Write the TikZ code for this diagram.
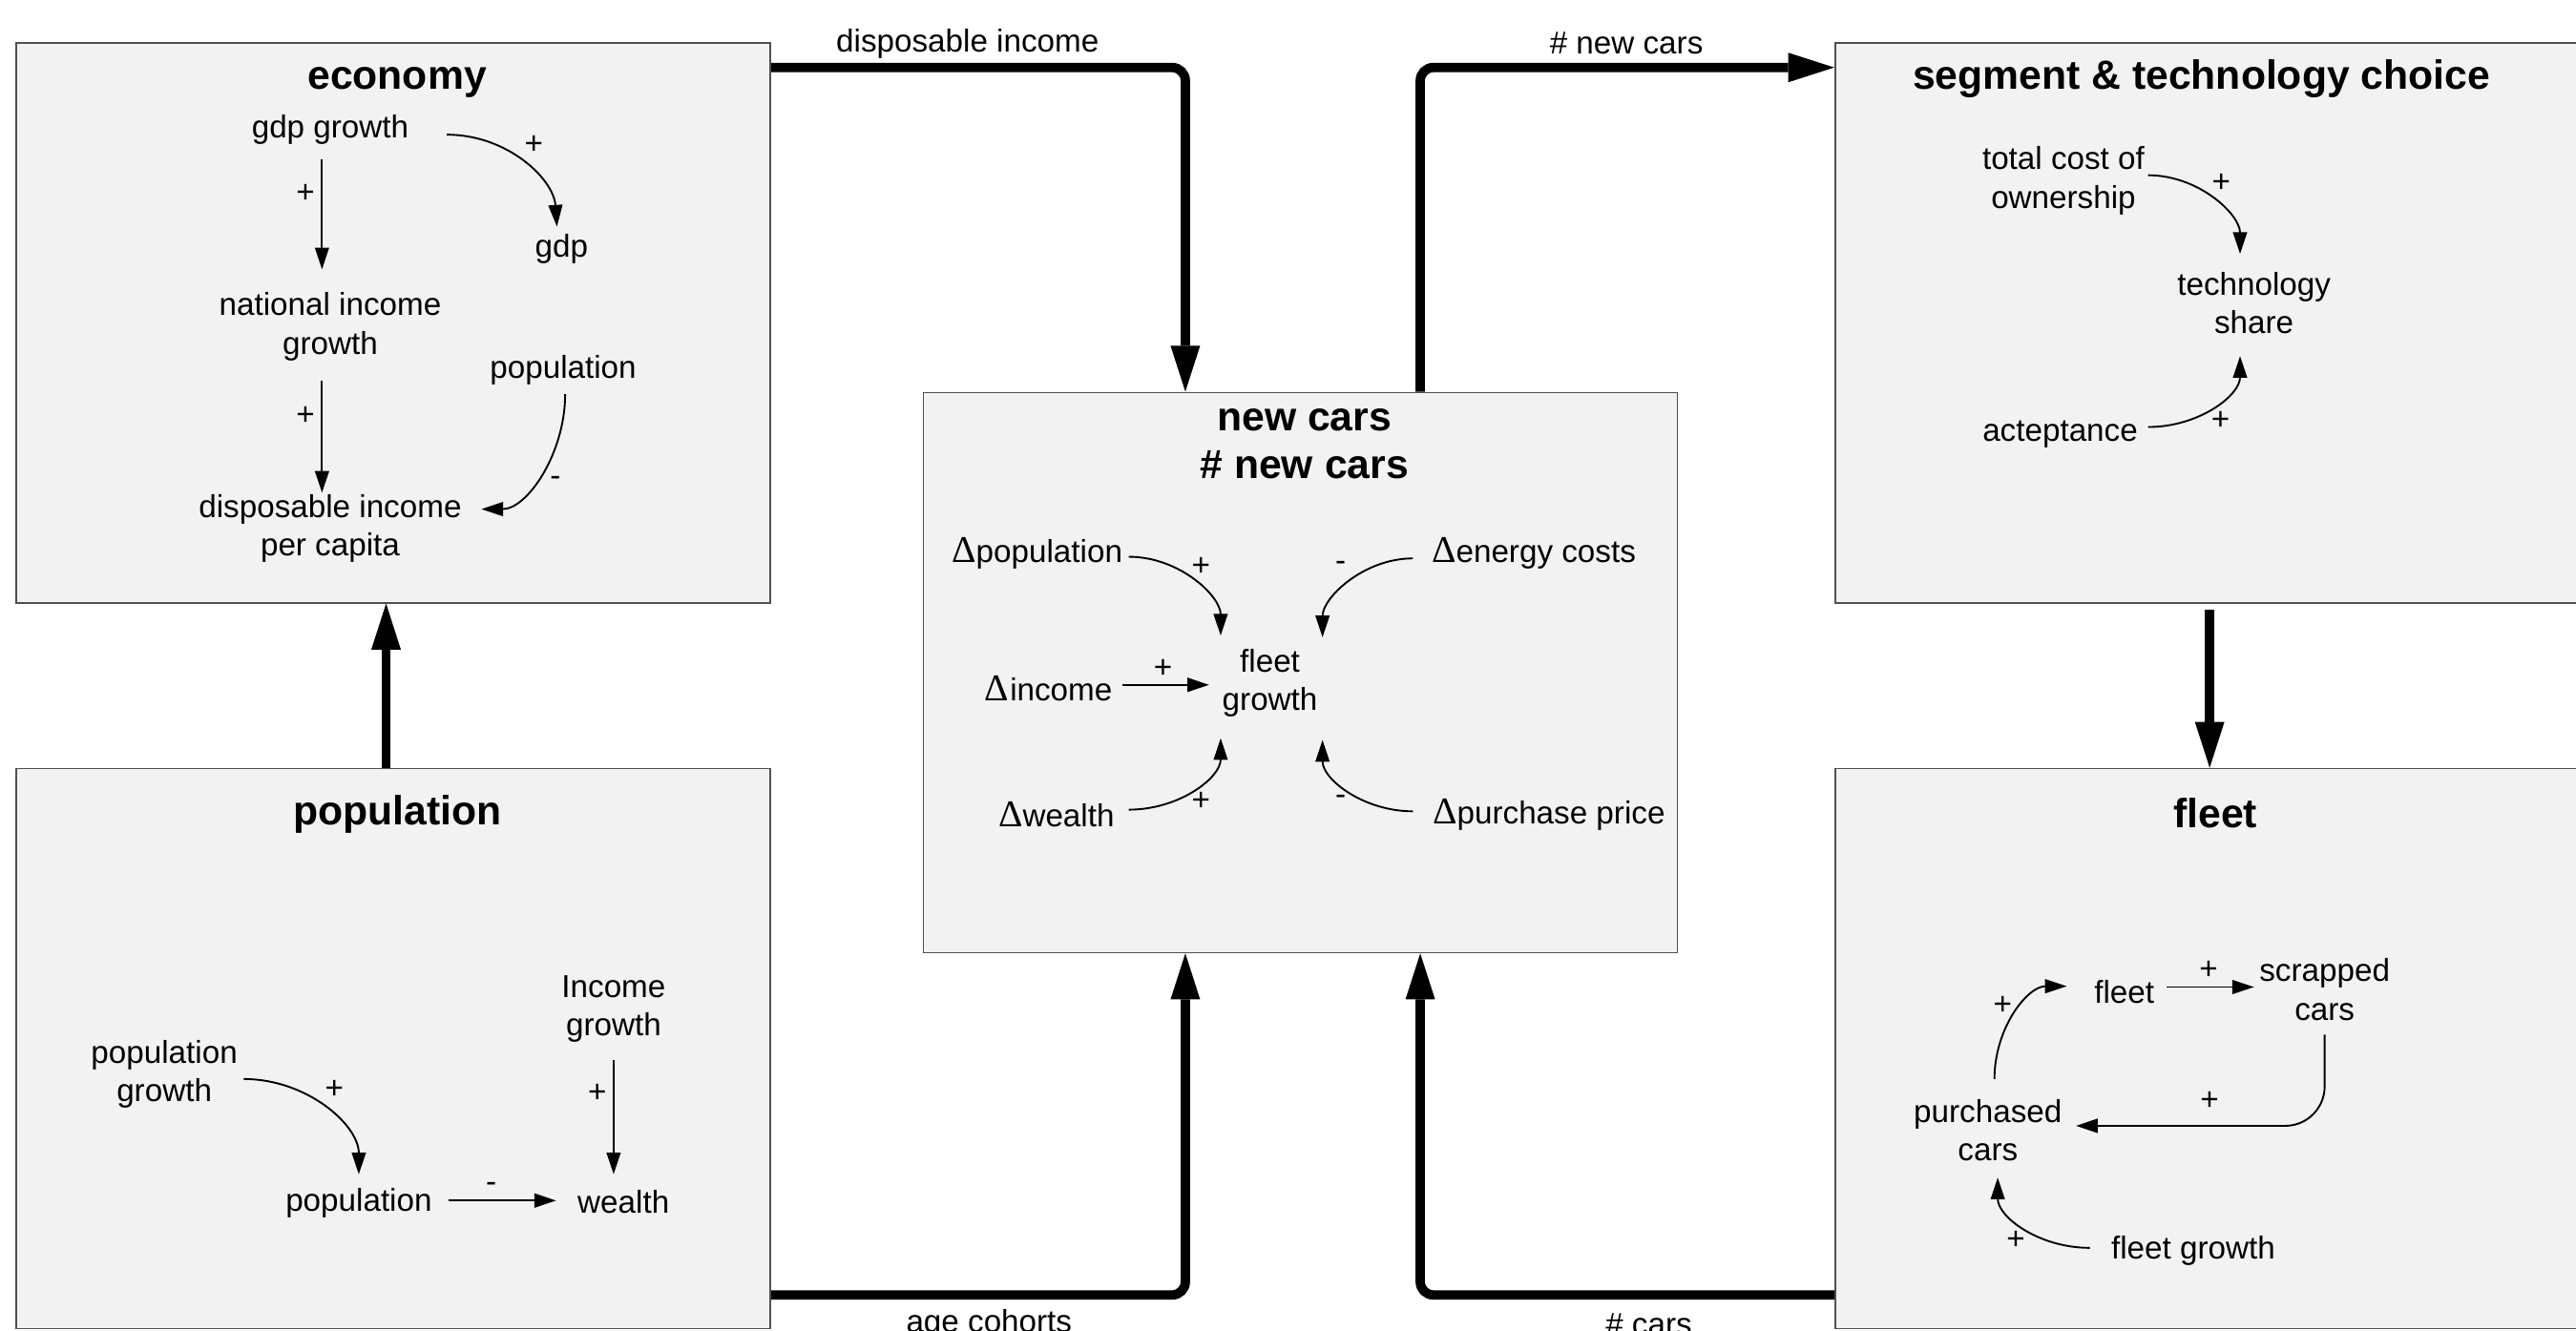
\documentclass[tikz,border=0pt]{standalone}
\usepackage{fontspec}
\setmainfont{Liberation Sans}
\newfontfamily\deltafont{Liberation Serif}
\usetikzlibrary{arrows.meta}
\definecolor{panelfill}{HTML}{F2F2F2}
\definecolor{panelline}{HTML}{505050}
\newcommand{\deltasym}{{\deltafont\fontsize{23}{23}\selectfont Δ}}
\begin{document}
\begin{tikzpicture}[x=1pt,y=-1pt,
  panel/.style={draw=panelline, fill=panelfill, line width=1pt,
    minimum width=459pt, minimum height=341pt, inner sep=0pt},
  lbl/.style={font=\fontsize{19.3}{23.5}\selectfont, align=center, inner sep=0pt, yshift=-2pt},
  sgn/.style={font=\fontsize{19.3}{23.5}\selectfont, inner sep=0pt},
  ttl/.style={font=\fontsize{24.8}{29}\selectfont\bfseries, align=center, inner sep=0pt, yshift=-2pt},
  link/.style={line width=1.1pt, -{Triangle[length=13.2pt,width=8.5pt]}},
  flow/.style={line width=5.7pt, rounded corners=8pt,
    -{Triangle[length=28pt,width=18pt,line width=0pt]}},
]
\useasboundingbox (0,0) rectangle (1568,810);
\clip (0,0) rectangle (1568,810);

% sub-model panels
\node[panel] (econ)  at (239.5,196.5) {};
\node[panel] (ncars) at (791.5,409.5) {};
\node[panel] (seg)   at (1346.5,196.5) {};
\node[panel] (popu)  at (239.5,638.5) {};
\node[panel] (fleet) at (1346.5,638.5) {};

% panel titles
\node[ttl] (econT)  at (241.7,48)   {economy};
\node[ttl] (ncarsT) at (794,268.5)  {new cars\\\# new cars};
\node[ttl] (segT)   at (1340,45.8)  {segment \& technology choice};
\node[ttl] (popuT)  at (241.8,494)  {population};
\node[ttl] (fleetT) at (1348.5,493) {fleet};

% ---- economy ----
\node[lbl] (gdpg) at (201,77)        {gdp growth};
\node[lbl] (gdp)  at (341.8,149.4)   {gdp};
\node[lbl] (nig)  at (201,197)       {national income\\growth};
\node[lbl] (epop) at (342.8,223.5)   {population};
\node[lbl] (dipc) at (201,319.8)     {disposable income\\per capita};
\draw[link] ([shift={(-5,18)}]gdpg.center) -- ([shift={(-5,-35)}]nig.center);
\draw[link] ([shift={(-5,33)}]nig.center) -- ([shift={(-5,-21.8)}]dipc.center);
\draw[link] ([shift={(71,3)}]gdpg.center) .. controls +(37,0) and +(-2,-29) .. ([shift={(-2.8,-13.4)}]gdp.center);
\draw[link] ([shift={(1.2,14.5)}]epop.center) .. controls +(0,36) and +(28,0) .. ([shift={(92,-11.8)}]dipc.center);
\node[sgn] (s1) at (186,118) {+};
\node[sgn] (s2) at (186,253) {+};
\node[sgn] (s3) at (325,88)  {+};
\node[sgn] (s4) at (338,293) {-};

% ---- new cars ----
\node[lbl] (dpop) at (631.3,335) {\deltasym population};
\node[lbl] (dene) at (933.6,335) {\deltasym energy costs};
\node[lbl] (dinc) at (638,417)   {\deltasym\kern1pt income};
\node[lbl] (fg)   at (773,414)   {fleet\\growth};
\node[lbl] (dwea) at (643,494)   {\deltasym wealth};
\node[lbl] (dpur) at (942.8,494) {\deltasym purchase price};
\draw[link] ([shift={(55.7,2)}]dpop.center) .. controls +(31,0) and +(0,-24) .. ([shift={(-30,-29)}]fg.center);
\draw[link] ([shift={(-73.6,3)}]dene.center) .. controls +(-30,0) and +(0,-24) .. ([shift={(32,-28)}]fg.center);
\draw[link] ([shift={(45,-2)}]dinc.center) -- ([shift={(-37,1)}]fg.center);
\draw[link] ([shift={(44,-3)}]dwea.center) .. controls +(31,0) and +(0,24) .. ([shift={(-30,33.5)}]fg.center);
\draw[link] ([shift={(-82.8,-2)}]dpur.center) .. controls +(-30,0) and +(0,24) .. ([shift={(32,34.6)}]fg.center);
\node[sgn] (s5) at (731,345) {+};
\node[sgn] (s6) at (816,345) {-};
\node[sgn] (s7) at (708,407) {+};
\node[sgn] (s8) at (731,488) {+};
\node[sgn] (s9) at (816,487) {-};

% ---- segment & technology choice ----
\node[lbl] (tco)  at (1256,108)   {total cost of\\ownership};
\node[lbl] (tech) at (1372,182.5) {technology\\share};
\node[lbl] (acc)  at (1254,262.5) {acteptance};
\draw[link] ([shift={(51.5,-3.3)}]tco.center) .. controls +(31,0) and +(0,-24) .. ([shift={(-8.5,-29.9)}]tech.center);
\draw[link] ([shift={(53.5,-4.5)}]acc.center) .. controls +(31,0) and +(0,24) .. ([shift={(-8.5,32.3)}]tech.center);
\node[sgn] (s10) at (1352,111.5) {+};
\node[sgn] (s11) at (1351.6,256) {+};

% ---- population ----
\node[lbl] (pg)   at (100,652)     {population\\growth};
\node[lbl] (ig)   at (373.5,612.3) {Income\\growth};
\node[lbl] (ppop) at (218.4,730.7) {population};
\node[lbl] (wea)  at (379.5,730)   {wealth};
\draw[link] ([shift={(48.4,3)}]pg.center) .. controls +(38.5,0) and +(0,-30) .. ([shift={(0,-17.7)}]ppop.center);
\draw[link] ([shift={(0,31)}]ig.center) -- ([shift={(-6,-17)}]wea.center);
\draw[link] ([shift={(54.4,-1.7)}]ppop.center) -- ([shift={(-41,-1)}]wea.center);
\node[sgn] (s12) at (203.5,663.5) {+};
\node[sgn] (s13) at (363.5,666)   {+};
\node[sgn] (s14) at (299,722.7)   {-};

% ---- fleet ----
\node[lbl] (ffl) at (1293,602)    {fleet};
\node[lbl] (scr) at (1415,600.4)  {scrapped\\cars};
\node[lbl] (pur) at (1210,686.3)  {purchased\\cars};
\node[lbl] (fgr) at (1335,759.8)  {fleet growth};
\draw[link] ([shift={(26,-3)}]ffl.center) -- ([shift={(-43,-1.4)}]scr.center);
\draw[link] ([shift={(4,-31.3)}]pur.center) .. controls +(0,-31) and +(-24,0) .. ([shift={(-35,-3.5)}]ffl.center);
\draw[link, rounded corners=24pt] ([shift={(0,27.6)}]scr.center) |- ([shift={(53.6,-2.8)}]pur.center);
\draw[link] ([shift={(-63,-2)}]fgr.center) .. controls +(-31,0) and +(0,24) .. ([shift={(6,28.7)}]pur.center);
\node[sgn] (s15) at (1344.3,591) {+};
\node[sgn] (s16) at (1219,612)   {+};
\node[sgn] (s17) at (1345,670.5) {+};
\node[sgn] (s18) at (1227,755)   {+};

% ---- links between sub-models ----
\draw[flow] ([shift={(0,15.6)}]econ.north east) -| node[lbl,pos=0.237,yshift=16.6pt] (lab1) {disposable income} ([shift={(-70,0)}]ncars.north);
\draw[flow] ([shift={(73,0)}]ncars.north) |- node[lbl,pos=0.749,yshift=16.6pt] (lab2) {\# new cars} ([shift={(0,15.6)}]seg.north west);
\draw[flow] ([shift={(-4.5,0)}]popu.north) -- ([shift={(-4.5,0)}]econ.south);
\draw[flow] ([shift={(-1.5,4)}]seg.south) -- ([shift={(-1.5,0)}]fleet.north);
\draw[flow] ([shift={(0,-21)}]popu.south east) -| node[lbl,pos=0.263,yshift=-16pt] (lab3) {age cohorts} ([shift={(-70,0)}]ncars.south);
\draw[flow] ([shift={(0,-21)}]fleet.south west) -| node[lbl,pos=0.224,yshift=-16pt] (lab4) {\# cars} ([shift={(73,0)}]ncars.south);
\end{tikzpicture}
\end{document}
